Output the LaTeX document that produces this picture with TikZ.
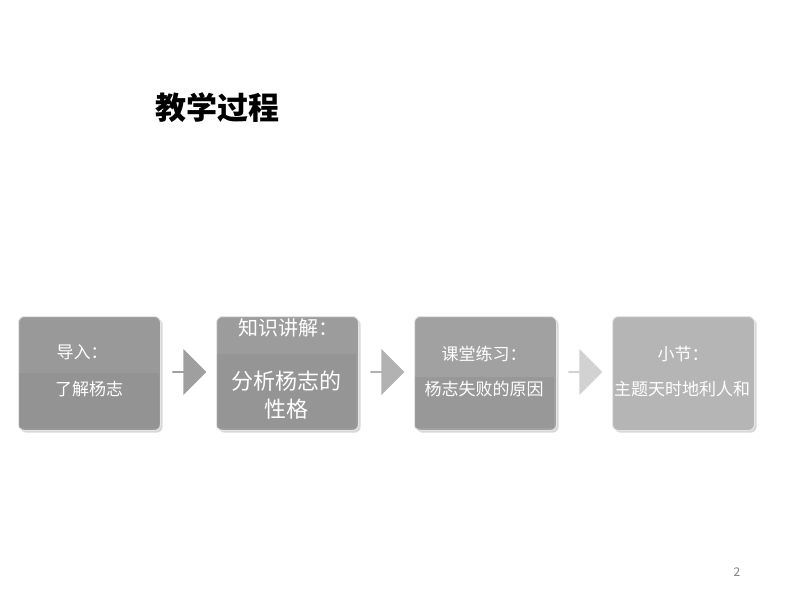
\documentclass[tikz,border=0pt]{standalone}
\usepackage{fontspec}
\usetikzlibrary{shadows,shapes.arrows}
\newfontfamily\cjk{Noto Sans CJK SC}
\begin{document}
\begin{tikzpicture}[x=1pt,y=-1pt,
  stagebox/.style={rounded corners=6pt,minimum width=142pt,minimum height=114pt,anchor=north west,draw=white!80!gray,line width=1pt,drop shadow={opacity=0.3}},
  lbl/.style={text=white,font=\cjk\fontsize{17}{20}\selectfont,align=center},
  arr/.style={single arrow,single arrow head extend=5pt,minimum height=34pt,minimum width=46pt,inner sep=0pt,single arrow tip angle=90,shape border rotate=0}]
\useasboundingbox (0,0) rectangle (800,600);
\fill[white] (0,0) rectangle (800,600);
\node[font=\cjk\bfseries\fontsize{31}{36}\selectfont,anchor=west] (title) at (152,108) {教学过程};
\node[stagebox,fill=gray!80] (b1) at (18,316) {};
\node[stagebox,fill=gray!78] (b2) at (216,316) {};
\node[stagebox,fill=gray!74] (b3) at (414,316) {};
\node[stagebox,fill=gray!58] (b4) at (612,316) {};
\fill[gray!90,opacity=0.4] (19,373) rectangle (159,428);
\fill[gray!90,opacity=0.4] (217,354) rectangle (356,428);
\fill[gray!90,opacity=0.4] (415,377) rectangle (554,428);
\node[arr,fill=gray!75] (a1) at (189,372) {};
\node[arr,fill=gray!60] (a2) at (387,372) {};
\node[arr,fill=gray!35] (a3) at (585,372) {};
\node[lbl] (t1a) at (82,352) {导入：};
\node[lbl] (t1b) at (89,389) {了解杨志};
\node[lbl,font=\cjk\fontsize{20}{24}\selectfont] (t2a) at (288,328) {知识讲解：};
\node[lbl,font=\cjk\fontsize{22}{28}\selectfont] (t2b) at (286,395) {分析杨志的\\性格};
\node[lbl] (t3a) at (484,354) {课堂练习：};
\node[lbl] (t3b) at (484,389) {杨志失败的原因};
\node[lbl] (t4a) at (683,354) {小节：};
\node[lbl] (t4b) at (682,389) {主题天时地利人和};
\node[text=gray,font=\cjk\fontsize{12}{14}\selectfont] (pg) at (737,572) {2};
\end{tikzpicture}
\end{document}
